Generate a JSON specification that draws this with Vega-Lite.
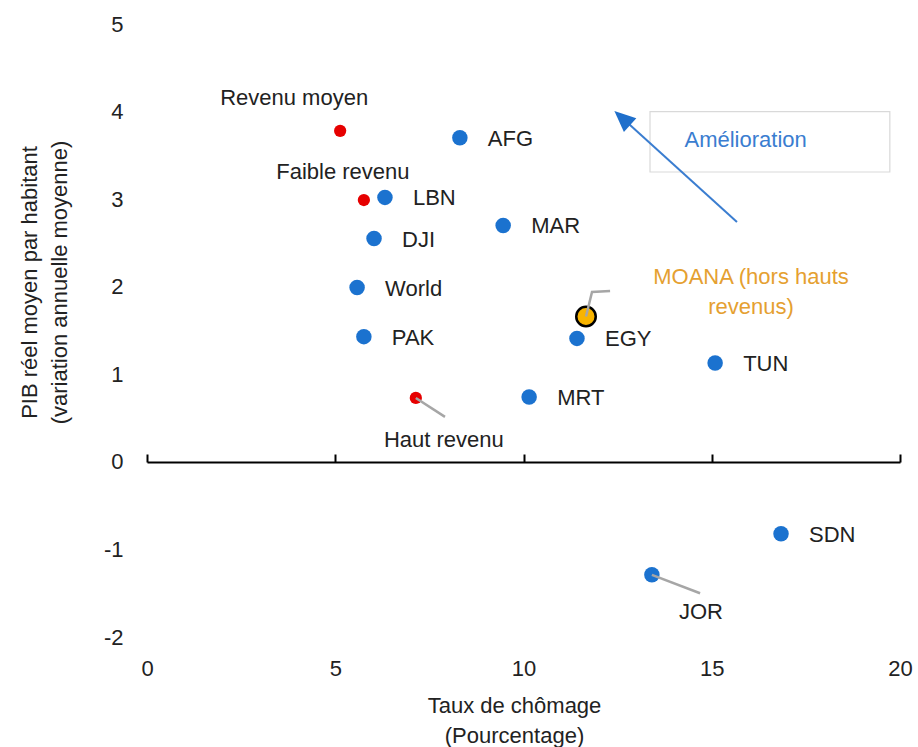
{
  "$schema": "https://vega.github.io/schema/vega-lite/v6.json",
  "width": 753,
  "height": 613,
  "autosize": {"type": "none"},
  "padding": {"left": 147, "top": 24, "right": 18, "bottom": 110},
  "background": "white",
  "config": {
    "view": {"stroke": null},
    "font": "Liberation Sans",
    "text": {"font": "Liberation Sans"}
  },
  "datasets": {
    "pts": [
      {"name": "Revenu moyen", "x": 5.13, "y": 3.78, "grp": "revenu"},
      {"name": "Faible revenu", "x": 5.76, "y": 2.99, "grp": "revenu"},
      {"name": "Haut revenu", "x": 7.14, "y": 0.73, "grp": "revenu"},
      {"name": "AFG", "x": 8.31, "y": 3.7, "grp": "pays"},
      {"name": "LBN", "x": 6.32, "y": 3.02, "grp": "pays"},
      {"name": "MAR", "x": 9.46, "y": 2.7, "grp": "pays"},
      {"name": "DJI", "x": 6.03, "y": 2.55, "grp": "pays"},
      {"name": "World", "x": 5.58, "y": 1.99, "grp": "pays"},
      {"name": "PAK", "x": 5.76, "y": 1.43, "grp": "pays"},
      {"name": "EGY", "x": 11.42, "y": 1.41, "grp": "pays"},
      {"name": "TUN", "x": 15.09, "y": 1.13, "grp": "pays"},
      {"name": "MRT", "x": 10.15, "y": 0.74, "grp": "pays"},
      {"name": "SDN", "x": 16.84, "y": -0.82, "grp": "pays"},
      {"name": "JOR", "x": 13.41, "y": -1.29, "grp": "pays"},
      {"name": "MOANA (hors hauts revenus)", "x": 11.66, "y": 1.66, "grp": "moana"}
    ],
    "leaders": [
      {"name": "Haut revenu", "x": 7.14, "y": 0.73, "x2": 7.915, "y2": 0.514},
      {"name": "JOR", "x": 13.41, "y": -1.29, "x2": 14.69, "y2": -1.5}
    ],
    "moanaLeader": [
      {"k": 1, "x": 11.66, "y": 1.66},
      {"k": 2, "x": 11.82, "y": 1.94},
      {"k": 3, "x": 12.3, "y": 1.95}
    ],
    "box": [{"x": 13.36, "x2": 19.73, "y": 4.0, "y2": 3.31, "label": "Amélioration", "lx": 15.9, "ly": 3.67}],
    "arrow": [{"x": 15.67, "y": 2.74, "x2": 12.675, "y2": 3.906}]
  },
  "layer": [
    {
      "data": {"name": "box"},
      "mark": {"type": "rect", "fill": "white", "stroke": "#d9d9d9", "strokeWidth": 1.2},
      "encoding": {
        "x": {"field": "x", "type": "quantitative", "scale": {"domain": [0, 20], "nice": false, "zero": false},
          "axis": {
            "orient": "bottom", "offset": -175, "values": [0, 5, 10, 15, 20], "labelExpr": "'' + datum.value",
            "labelFlush": false, "labelOverlap": false,
            "grid": false, "domain": true, "domainColor": "#000", "domainWidth": 2,
            "ticks": true, "tickSize": -8, "tickColor": "#000", "tickWidth": 2,
            "labelPadding": 204, "labelFontSize": 22, "labelColor": "#222", "labelFont": "Liberation Sans",
            "title": ["Taux  de chômage", "(Pourcentage)"],
            "titleFontSize": 22, "titleFontWeight": "normal", "titleColor": "#222", "titleFont": "Liberation Sans",
            "titleLineHeight": 30, "titleBaseline": "top", "titleY": 233, "titleX": 367
          }},
        "x2": {"field": "x2"},
        "y": {"field": "y", "type": "quantitative", "scale": {"domain": [-2, 5], "nice": false, "zero": false},
          "axis": {
            "orient": "left", "values": [-2, -1, 0, 1, 2, 3, 4, 5], "labelExpr": "'' + datum.value",
            "labelFlush": false, "labelOverlap": false,
            "grid": false, "domain": false, "ticks": false,
            "labelPadding": 24, "labelFontSize": 22, "labelColor": "#222", "labelFont": "Liberation Sans",
            "title": ["PIB réel moyen par habitant", "(variation annuelle  moyenne)"],
            "titleFontSize": 22, "titleFontWeight": "normal", "titleColor": "#222", "titleFont": "Liberation Sans",
            "titleLineHeight": 30, "titleBaseline": "top", "titleAngle": -90, "titleX": -128, "titleY": 258
          }},
        "y2": {"field": "y2"}
      }
    },
    {
      "data": {"name": "box"},
      "mark": {"type": "text", "fontSize": 22, "color": "#3A7DD0", "align": "center", "baseline": "middle"},
      "encoding": {
        "x": {"field": "lx", "type": "quantitative"},
        "y": {"field": "ly", "type": "quantitative"},
        "text": {"field": "label"}
      }
    },
    {
      "data": {"name": "arrow"},
      "mark": {"type": "rule", "color": "#3A7DD0", "strokeWidth": 2},
      "encoding": {
        "x": {"field": "x", "type": "quantitative"},
        "y": {"field": "y", "type": "quantitative"},
        "x2": {"field": "x2"},
        "y2": {"field": "y2"}
      }
    },
    {
      "data": {"name": "arrow"},
      "mark": {"type": "point", "shape": "M0,-1L0.7,0.6L-0.7,0.6Z", "filled": true, "color": "#1F6FCB", "opacity": 1, "size": 700, "angle": 312},
      "encoding": {
        "x": {"field": "x2", "type": "quantitative"},
        "y": {"field": "y2", "type": "quantitative"}
      }
    },
    {
      "data": {"name": "pts"},
      "transform": [{"filter": "datum.grp === 'pays'"}],
      "mark": {"type": "circle", "color": "#1B72CF", "opacity": 1, "size": 240},
      "encoding": {
        "x": {"field": "x", "type": "quantitative"},
        "y": {"field": "y", "type": "quantitative"}
      }
    },
    {
      "data": {"name": "pts"},
      "transform": [{"filter": "datum.grp === 'revenu'"}],
      "mark": {"type": "circle", "color": "#E60000", "opacity": 1, "size": 150},
      "encoding": {
        "x": {"field": "x", "type": "quantitative"},
        "y": {"field": "y", "type": "quantitative"}
      }
    },
    {
      "data": {"name": "pts"},
      "transform": [{"filter": "datum.grp === 'moana'"}],
      "mark": {"type": "circle", "fill": "#F8B400", "stroke": "#000", "strokeWidth": 2.5, "opacity": 1, "size": 380},
      "encoding": {
        "x": {"field": "x", "type": "quantitative"},
        "y": {"field": "y", "type": "quantitative"}
      }
    },
    {
      "data": {"name": "leaders"},
      "mark": {"type": "rule", "color": "#A6A6A6", "strokeWidth": 2.5},
      "encoding": {
        "x": {"field": "x", "type": "quantitative"},
        "y": {"field": "y", "type": "quantitative"},
        "x2": {"field": "x2"},
        "y2": {"field": "y2"}
      }
    },
    {
      "data": {"name": "moanaLeader"},
      "mark": {"type": "line", "color": "#A6A6A6", "strokeWidth": 2.5},
      "encoding": {
        "x": {"field": "x", "type": "quantitative"},
        "y": {"field": "y", "type": "quantitative"},
        "order": {"field": "k", "type": "quantitative"}
      }
    },
    {
      "data": {"name": "pts"},
      "transform": [{"filter": "datum.grp === 'pays' && datum.name !== 'JOR'"}],
      "mark": {"type": "text", "fontSize": 22, "color": "#222", "align": "left", "baseline": "middle", "dx": 28, "dy": 1},
      "encoding": {
        "x": {"field": "x", "type": "quantitative"},
        "y": {"field": "y", "type": "quantitative"},
        "text": {"field": "name"}
      }
    },
    {
      "data": {"name": "pts"},
      "transform": [{"filter": "datum.name === 'JOR'"}],
      "mark": {"type": "text", "fontSize": 22, "color": "#222", "align": "center", "baseline": "middle", "dx": 49, "dy": 37},
      "encoding": {
        "x": {"field": "x", "type": "quantitative"},
        "y": {"field": "y", "type": "quantitative"},
        "text": {"field": "name"}
      }
    },
    {
      "data": {"name": "pts"},
      "transform": [{"filter": "datum.name === 'Revenu moyen'"}],
      "mark": {"type": "text", "fontSize": 22, "color": "#222", "align": "center", "baseline": "middle", "dx": -46, "dy": -33},
      "encoding": {
        "x": {"field": "x", "type": "quantitative"},
        "y": {"field": "y", "type": "quantitative"},
        "text": {"field": "name"}
      }
    },
    {
      "data": {"name": "pts"},
      "transform": [{"filter": "datum.name === 'Faible revenu'"}],
      "mark": {"type": "text", "fontSize": 22, "color": "#222", "align": "center", "baseline": "middle", "dx": -21, "dy": -28},
      "encoding": {
        "x": {"field": "x", "type": "quantitative"},
        "y": {"field": "y", "type": "quantitative"},
        "text": {"field": "name"}
      }
    },
    {
      "data": {"name": "pts"},
      "transform": [{"filter": "datum.name === 'Haut revenu'"}],
      "mark": {"type": "text", "fontSize": 22, "color": "#222", "align": "center", "baseline": "middle", "dx": 28, "dy": 42},
      "encoding": {
        "x": {"field": "x", "type": "quantitative"},
        "y": {"field": "y", "type": "quantitative"},
        "text": {"field": "name"}
      }
    },
    {
      "data": {"name": "pts"},
      "transform": [{"filter": "datum.grp === 'moana'"}],
      "mark": {"type": "text", "fontSize": 22, "color": "#E5A030", "align": "center", "baseline": "middle", "dx": 165, "dy": -39, "lineHeight": 30, "text": ["MOANA (hors hauts", "revenus)"]},
      "encoding": {
        "x": {"field": "x", "type": "quantitative"},
        "y": {"field": "y", "type": "quantitative"}
      }
    }
  ]
}
